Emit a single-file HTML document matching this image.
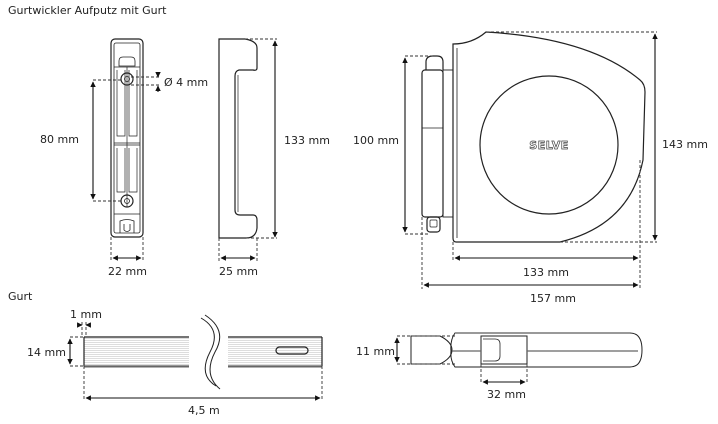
<!DOCTYPE html>
<html><head><meta charset="utf-8"><style>
html,body{margin:0;padding:0;background:#fff}
svg{display:block}
text{font-family:"DejaVu Sans","Liberation Sans",sans-serif;font-size:11px;fill:#222}
</style></head><body>
<svg width="718" height="424" viewBox="0 0 718 424" xmlns="http://www.w3.org/2000/svg">
<defs>
<marker id="a" viewBox="0 0 10 10" refX="9" refY="5" markerWidth="5" markerHeight="5" orient="auto-start-reverse"><path d="M0,0L10,5L0,10z" fill="#111"/></marker>
<pattern id="st" width="4" height="2" patternUnits="userSpaceOnUse"><rect width="4" height="2" fill="#fff"/><rect width="4" height="1" fill="#ddd"/></pattern>
</defs>
<g fill="none" stroke="#222" stroke-width="1.2">
<!-- back plate -->
<rect x="111" y="39" width="32" height="198" rx="4"/>
<rect x="114" y="43" width="26" height="190" rx="2" stroke-width="0.8"/>
<path d="M119,66 v-5 q0,-4 4,-4 h8 q4,0 4,4 v5 z" stroke-width="0.8"/>
<path d="M114,67 h26 M127,67 v140 M114,143 h26 M114,145 h26 M117,70 v66 h8 v-66 M129,70 v66 h8 v-66 M117,148 v44 h8 v-44 M129,148 v44 h8 v-44 M114,214 h26" stroke-width="0.7"/>
<circle cx="127" cy="79" r="6"/><circle cx="127" cy="79" r="2.5" stroke-width="0.8"/>
<circle cx="127" cy="201" r="6"/><circle cx="127" cy="201" r="2.5" stroke-width="0.8"/>
<path d="M120,233 v-12 q7,-3 14,0 v12 M124,224 v6 q3,3 6,0 v-6" stroke-width="0.8"/>
<!-- side profile -->
<path d="M219,39 H245 Q257,41 257,48 V68 Q257,71 253,70 H239 Q235,71 235,76 V210 Q235,215 240,215 H253 Q257,215 257,220 V228 Q256,238 246,238 H219 Z"/>
<path d="M238,75 V212" stroke-width="0.7"/>
<!-- main box -->
<path d="M453,44 Q472,44 486,32 Q590,38 640,80 Q645,84 645,92 L643,160 Q630,225 560,242 L456,242 Q453,242 453,238 Z"/>
<path d="M457,48 V238" stroke-width="0.8"/>
<circle cx="549" cy="145" r="69"/>
<rect x="443" y="70" width="10" height="147" stroke-width="0.9"/>
<path d="M426,70 V62 Q426,56 433,56 H437 Q443,56 443,62 V70"/>
<rect x="422" y="70" width="21" height="147" rx="3"/>
<path d="M422,128 H443 M443,137 V217" stroke-width="0.8"/>
<rect x="427" y="217" width="13" height="15" rx="3"/><rect x="430" y="220" width="7" height="7" rx="1" stroke-width="0.7"/>
<!-- strap -->
<rect x="84" y="337" width="105" height="29" fill="url(#st)" stroke="none"/>
<rect x="228" y="337" width="94" height="29" fill="url(#st)" stroke="none"/>
<path d="M84,337 H189 M84,366 H189 M228,337 H322 M228,366 H322 M84,337 V366 M322,337 V366"/>
<path d="M84,366.5 H189 M228,366.5 H322" stroke-width="2" stroke="#666"/>
<rect x="276" y="347" width="32" height="7" rx="3.5"/>
<path d="M201,318 Q222,330 210,352 Q198,375 216,386 M205,315 Q228,330 215,352 Q203,375 220,389" stroke-width="1"/>
<!-- buckle -->
<path d="M455,333 H630 Q642,333 642,350 Q642,367 630,367 H455 Q450,360 451,351 Q450,340 455,333 Z" stroke-width="1"/>
<path d="M455,333 H630" stroke="#999" stroke-width="2"/>
<path d="M411,336 H440 Q452,342 452,350 Q452,358 440,364 H411 Z" stroke-width="1"/>
<rect x="481" y="336" width="46" height="28" stroke-width="1"/>
<path d="M483,339 H495 Q500,339 500,344 V356 Q500,361 495,361 H483" stroke-width="0.8"/>
<path d="M452,351 H481 M527,351 H638" stroke="#666" stroke-width="1.2"/>
</g>
<text x="549" y="149" text-anchor="middle" style="font-weight:bold;font-size:11px;fill:#fff;stroke:#444;stroke-width:0.7;letter-spacing:0.5px">SELVE</text>
<!-- dashed lines -->
<g fill="none" stroke="#333" stroke-width="0.9" stroke-dasharray="3,2">
<path d="M93,80 H121 M93,201 H121 M131,77 H160 M131,85 H160"/>
<path d="M111,237 V262 M143,237 V262 M219,238 V262 M257,238 V262 M245,39 H277 M246,238 H277"/>
<path d="M486,32 H657 M560,242 H657 M405,56 H433 M405,234 H430 M453,242 V262 M640,160 V289 M422,217 V289"/>
<path d="M84,366 V400 M322,366 V400 M70,337 H84 M70,366 H84 M82,322 V337 M86,322 V337"/>
<path d="M397,336 H455 M397,364 H455 M481,364 V384 M527,364 V384"/>
</g>
<g fill="none" stroke="#111" stroke-width="1.1">
<path d="M93,82 V199" marker-start="url(#a)" marker-end="url(#a)"/>
<path d="M158,72 V77" marker-end="url(#a)"/><path d="M158,92 V86" marker-end="url(#a)"/>
<path d="M113,258 H141" marker-start="url(#a)" marker-end="url(#a)"/>
<path d="M221,258 H255" marker-start="url(#a)" marker-end="url(#a)"/>
<path d="M275,41 V237" marker-start="url(#a)" marker-end="url(#a)"/>
<path d="M655,34 V240" marker-start="url(#a)" marker-end="url(#a)"/>
<path d="M405,58 V232" marker-start="url(#a)" marker-end="url(#a)"/>
<path d="M455,258 H638" marker-start="url(#a)" marker-end="url(#a)"/>
<path d="M424,285 H638" marker-start="url(#a)" marker-end="url(#a)"/>
<path d="M70,339 V364" marker-start="url(#a)" marker-end="url(#a)"/>
<path d="M78,325 H82" marker-end="url(#a)"/><path d="M90,325 H86" marker-end="url(#a)"/>
<path d="M86,398 H320" marker-start="url(#a)" marker-end="url(#a)"/>
<path d="M397,338 V362" marker-start="url(#a)" marker-end="url(#a)"/>
<path d="M483,382 H525" marker-start="url(#a)" marker-end="url(#a)"/>
</g>
<text x="8" y="14">Gurtwickler Aufputz mit Gurt</text>
<text x="40" y="143">80 mm</text>
<text x="164" y="86">Ø 4 mm</text>
<text x="108" y="275">22 mm</text>
<text x="219" y="275">25 mm</text>
<text x="284" y="144">133 mm</text>
<text x="353" y="144">100 mm</text>
<text x="662" y="148">143 mm</text>
<text x="523" y="276">133 mm</text>
<text x="530" y="302">157 mm</text>
<text x="8" y="300">Gurt</text>
<text x="70" y="318">1 mm</text>
<text x="27" y="356">14 mm</text>
<text x="188" y="414">4,5 m</text>
<text x="356" y="355">11 mm</text>
<text x="487" y="398">32 mm</text>
</svg>
</body></html>
